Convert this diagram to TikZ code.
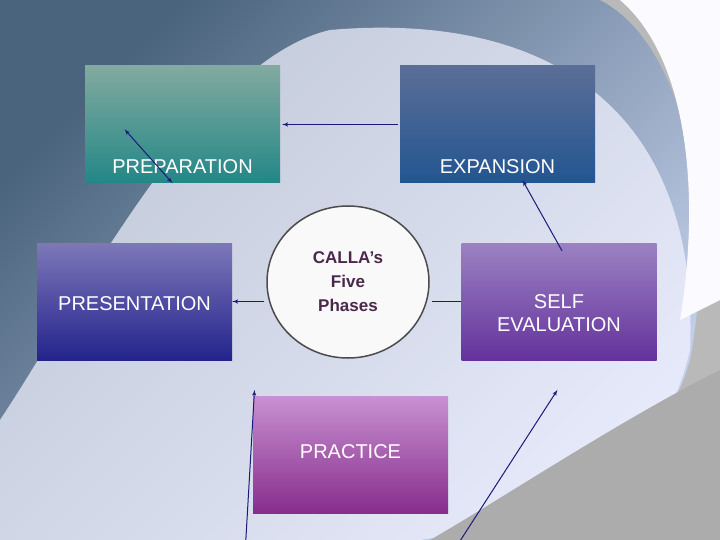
\documentclass[tikz,border=0pt]{standalone}
\usepackage{fontspec}
\setmainfont{Liberation Sans}
\usetikzlibrary{arrows,positioning,shapes.geometric}
\definecolor{linkblue}{HTML}{1A1A7A}
\definecolor{bgA}{RGB}{75,100,125}
\definecolor{bgD}{RGB}{200,212,240}
\definecolor{prepT}{RGB}{130,170,160}
\definecolor{prepB}{RGB}{35,135,135}
\definecolor{expT}{RGB}{90,110,150}
\definecolor{expB}{RGB}{35,85,145}
\definecolor{presT}{RGB}{125,120,185}
\definecolor{presB}{RGB}{35,35,140}
\definecolor{selfT}{RGB}{155,130,195}
\definecolor{selfB}{RGB}{100,50,155}
\definecolor{pracT}{RGB}{200,145,210}
\definecolor{pracB}{RGB}{135,45,140}
\definecolor{coretext}{RGB}{75,40,75}
\tikzstyle{line} = [draw=linkblue, line width=1pt, -latex']
\tikzstyle{both} = [draw=linkblue, line width=1pt, latex'-latex']
\tikzstyle{phase} = [rectangle, minimum width=195pt, minimum height=117pt, inner sep=0pt]
\tikzstyle{lbl} = [text=white, font=\fontsize{20}{23}\selectfont, align=center]
\begin{document}
\begin{tikzpicture}[x=1pt, y=-1pt]
		\useasboundingbox (0,0) rectangle (720,540);
		% background
		\shade[left color=bgA, right color=bgD, shading angle=45] (0,0) rectangle (720,540);
		\fill[white!70!blue!15, opacity=0.7] (330,30) .. controls (560,10) and (700,120) .. (690,350) .. controls (660,480) and (560,520) .. (420,540) -- (0,540) -- (0,420) .. controls (80,300) and (200,60) .. (330,30);
		\fill[gray!55] (720,0) -- (600,0) .. controls (680,40) and (720,200) .. (690,360) .. controls (660,470) and (540,520) .. (440,540) -- (720,540) -- cycle;
		\fill[white!85!blue!10] (620,0) .. controls (690,60) and (700,200) .. (680,320) -- (720,300) -- (720,0) -- cycle;
		\fill[gray!65] (720,370) .. controls (620,420) and (500,500) .. (430,540) -- (720,540) -- cycle;
		
		\node [phase, top color=prepT, bottom color=prepB, label={[lbl, yshift=-42pt]center:PREPARATION}] (prep) at (182.5,124.5) {};
		\node [phase, top color=expT, bottom color=expB, label={[lbl, yshift=-42pt]center:EXPANSION}] (exp) at (497.5,124.5) {};
		\node [phase, top color=presT, bottom color=presB, label={[lbl, yshift=-2pt]center:PRESENTATION}] (pres) at (134.5,301.5) {};
		\node [phase, top color=selfT, bottom color=selfB, label={[lbl, yshift=-12pt]center:SELF\\EVALUATION}] (self) at (559,301.5) {};
		\node [phase, top color=pracT, bottom color=pracB, label={[lbl, yshift=3pt]center:PRACTICE}] (prac) at (350.5,454.5) {};
		
		\node [ellipse, draw=black!70, line width=1.5pt, fill=white!95!gray, minimum width=162pt, minimum height=152pt, align=center, text=coretext, font=\bfseries\fontsize{17}{24}\selectfont] (core) at (348,282) {CALLA's\\Five\\Phases};
		
		\path [line] ([xshift=-2pt]exp.west) to ([xshift=2pt]prep.east);
		\path [both] ([xshift=-10pt]prep.south) to ([xshift=-58pt,yshift=54pt]prep.south);
		\path [both] ([xshift=-96pt,yshift=6pt]prac.north) to ([xshift=-106pt,yshift=-50pt]prac.south);
		\path [both] ([xshift=101pt,yshift=-41pt]prac.south) to ([xshift=207pt,yshift=6pt]prac.north);
		\path [line] ([xshift=3pt,yshift=-8pt]self.north) to ([xshift=25pt,yshift=3pt]exp.south);
		\coordinate (cw) at ([xshift=-2pt]core.west |- pres.east);
		\coordinate (ce) at ([xshift=2pt]core.east |- self.west);
		\path [line] (cw) to (pres.east);
		\draw [draw=linkblue, line width=1pt] (ce) -- (self.west);
\end{tikzpicture}
\end{document}
